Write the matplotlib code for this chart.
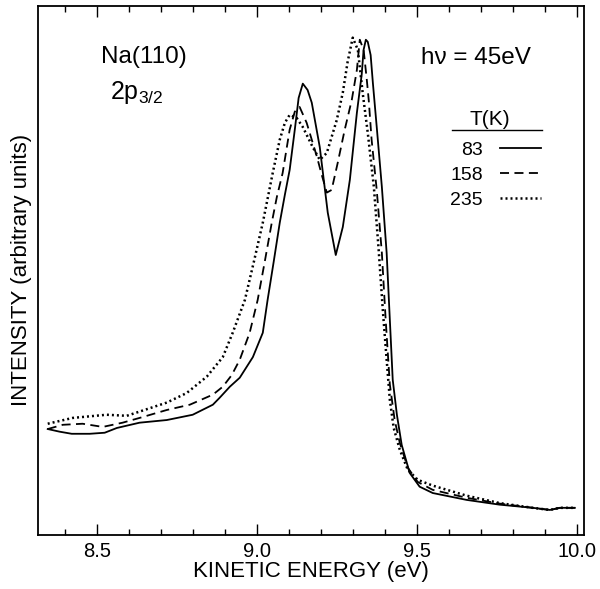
import numpy as np
import matplotlib
matplotlib.use("Agg")
import matplotlib.pyplot as plt
from matplotlib.ticker import MultipleLocator

plt.rcParams['font.family'] = ['Liberation Sans', 'DejaVu Sans']
plt.rcParams['mathtext.fontset'] = 'custom'
plt.rcParams['mathtext.rm'] = 'Liberation Sans'

# kinetic energy (eV) / intensity (arb. units)
e_83 = [8.347, 8.384, 8.422, 8.478, 8.525, 8.563, 8.634, 8.719, 8.800, 8.863,
        8.884, 8.916, 8.947, 8.988, 9.019, 9.034, 9.053, 9.072, 9.088, 9.103,
        9.119, 9.131, 9.144, 9.159, 9.172, 9.197, 9.222, 9.247, 9.269, 9.291,
        9.313, 9.328, 9.334, 9.341, 9.347, 9.356, 9.363, 9.375, 9.391, 9.406,
        9.416, 9.425, 9.438, 9.453, 9.478, 9.509, 9.550, 9.656, 9.759, 9.863,
        9.916, 9.947, 9.994]
i_83 = [20.0, 19.5, 19.1, 19.1, 19.3, 20.2, 21.2, 21.7, 22.7, 24.6,
        25.9, 28.0, 29.7, 33.6, 38.2, 44.4, 51.6, 59.0, 64.3, 69.0,
        76.6, 82.6, 85.3, 84.1, 81.7, 73.3, 60.9, 52.9, 58.2, 67.1,
        79.8, 87.0, 91.7, 93.6, 93.2, 90.7, 85.4, 77.1, 65.8, 53.3,
        40.6, 29.3, 22.7, 17.0, 11.7, 9.1, 7.9, 6.6, 5.7, 5.1,
        4.7, 5.1, 5.1]

e_158 = [8.347, 8.394, 8.456, 8.519, 8.581, 8.634, 8.719, 8.791, 8.863, 8.894,
         8.922, 8.947, 8.978, 9.003, 9.025, 9.047, 9.063, 9.081, 9.103, 9.119,
         9.134, 9.156, 9.188, 9.203, 9.219, 9.234, 9.253, 9.275, 9.297, 9.313,
         9.322, 9.334, 9.344, 9.350, 9.359, 9.375, 9.391, 9.403, 9.416, 9.431,
         9.447, 9.472, 9.503, 9.550, 9.656, 9.759, 9.863, 9.916, 9.947, 9.994]
i_158 = [20.0, 20.8, 21.0, 20.4, 21.2, 22.1, 23.6, 24.6, 26.5, 28.0,
         30.2, 33.1, 38.2, 44.4, 51.6, 59.0, 63.9, 68.4, 76.6, 80.0,
         80.9, 77.9, 71.5, 68.1, 64.7, 65.2, 70.3, 76.6, 82.2, 87.9,
         93.6, 91.7, 86.0, 82.2, 74.7, 65.2, 53.3, 40.6, 28.4, 21.7,
         17.4, 12.7, 10.0, 8.5, 7.0, 5.9, 5.1, 4.7, 5.1, 5.1]

e_235 = [8.347, 8.425, 8.531, 8.594, 8.634, 8.719, 8.781, 8.844, 8.894, 8.925,
         8.963, 8.991, 9.019, 9.050, 9.072, 9.088, 9.103, 9.125, 9.144, 9.175,
         9.197, 9.219, 9.250, 9.269, 9.284, 9.300, 9.316, 9.331, 9.347, 9.366,
         9.381, 9.394, 9.406, 9.416, 9.428, 9.447, 9.472, 9.503, 9.550, 9.656,
         9.759, 9.863, 9.916, 9.947, 9.994]
i_235 = [21.0, 22.1, 22.7, 22.5, 23.3, 25.0, 26.8, 29.9, 33.6, 38.2,
         44.4, 51.6, 59.0, 68.4, 74.7, 77.9, 79.4, 78.8, 77.1, 73.3,
         70.9, 72.2, 78.4, 83.6, 89.4, 94.0, 91.7, 83.6, 76.0, 65.8,
         53.9, 42.5, 33.1, 25.5, 20.2, 16.1, 12.3, 10.4, 9.3, 7.4,
         6.0, 5.1, 4.7, 5.1, 5.1]

temps = ['83', '158', '235']

fig = plt.figure(figsize=(6.0, 5.89), dpi=100)
ax = fig.add_axes([0.063, 0.092, 0.910, 0.898])

ax.plot(e_83, i_83, color='black', lw=1.3, ls='-', label=temps[0])
ax.plot(e_158, i_158, color='black', lw=1.3, ls=(0, (5, 3)), label=temps[1])
ax.plot(e_235, i_235, color='black', lw=1.8, ls=(0, (0.8, 1.2)), label=temps[2])

ax.set_xlim(8.316, 10.022)
ax.set_ylim(0, 100)
ax.xaxis.set_major_locator(MultipleLocator(0.5))
ax.xaxis.set_minor_locator(MultipleLocator(0.1))
ax.xaxis.set_major_formatter(matplotlib.ticker.FormatStrFormatter('%.1f'))
ax.tick_params(axis='x', which='both', direction='in', top=True, labelsize=14.5, width=1.0)
ax.tick_params(axis='x', which='major', length=8, pad=5)
ax.tick_params(axis='x', which='minor', length=4)
ax.set_yticks([])
for s in ax.spines.values():
    s.set_linewidth(1.3)

ax.set_xlabel('KINETIC ENERGY (eV)', fontsize=16, labelpad=0)
ax.set_ylabel('INTENSITY (arbitrary units)', fontsize=16, labelpad=4)

ax.text(0.195, 0.904, 'Na(110)', transform=ax.transAxes, fontsize=17.5, ha='center', va='center')
ax.text(0.182, 0.837, r'$\mathregular{2p_{3/2}}$', transform=ax.transAxes, fontsize=18,
        ha='center', va='center')
ax.text(0.802, 0.902, 'h\u03bd = 45eV', transform=ax.transAxes, fontsize=17.5, ha='center', va='center')

# legend with underlined "T(K)" heading
ax.text(0.828, 0.786, 'T(K)', transform=ax.transAxes, fontsize=15, ha='center', va='center')
ax.plot([0.758, 0.923], [0.766, 0.766], color='black', lw=1.0, transform=ax.transAxes)
leg = ax.legend(loc='upper left', bbox_to_anchor=(0.738, 0.762), frameon=False,
                markerfirst=False, fontsize=14,
                handlelength=2.15, handletextpad=0.85, labelspacing=0.38, borderpad=0)

fig.savefig('out.png', dpi=100)
